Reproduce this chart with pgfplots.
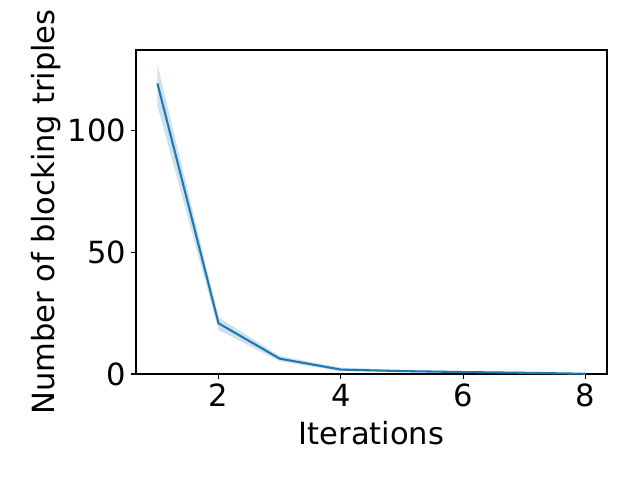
\documentclass[border=0pt]{standalone}
\usepackage{pgfplots}
\pgfplotsset{compat=1.18}
\usepgfplotslibrary{fillbetween}
\usepackage{fontspec}
\setmainfont{DejaVu Sans}
\definecolor{mplblue}{HTML}{1F77B4}
\begin{document}
\begin{tikzpicture}
\begin{axis}[
  at={(0pt,0pt)}, anchor=south west,
  scale only axis,
  width=339.1pt, height=233.3pt,
  xmin=0.65, xmax=8.35,
  ymin=0, ymax=133,
  xtick={2,4,6,8},
  ytick={0,50,100},
  tick align=outside,
  tick pos=left,
  major tick length=3.5pt,
  every tick/.style={black, line width=0.8pt},
  axis line style={line width=0.8pt},
  /pgf/number format/assume math mode=true,
  tick label style={font=\fontsize{22}{26}\selectfont},
  label style={font=\fontsize{22}{26}\selectfont},
  xlabel={Iterations},
  ylabel={Number of blocking triples},
  xlabel style={yshift=-3.5pt},
  ylabel style={yshift=-2pt},
]
\addplot[name path=upper, draw=none, forget plot] coordinates {
  (1,127) (2,23.2) (3,7.4) (4,2.6) (5,1.7) (6,1.2) (7,0.8) (8,0.3)};
\addplot[name path=lower, draw=none, forget plot] coordinates {
  (1,110) (2,18.0) (3,5.2) (4,1.2) (5,0.7) (6,0.4) (7,0.2) (8,0.0)};
\addplot[mplblue, fill opacity=0.22, draw=none, forget plot] fill between[of=upper and lower];
\addplot[mplblue, line width=1.5pt] coordinates {
  (1,119.3) (2,20.8) (3,6.3) (4,1.8) (5,1.2) (6,0.8) (7,0.5) (8,0.1)};
\end{axis}
\path (-97.92pt,-76.32pt) rectangle (362.88pt,269.28pt);
\end{tikzpicture}
\end{document}
